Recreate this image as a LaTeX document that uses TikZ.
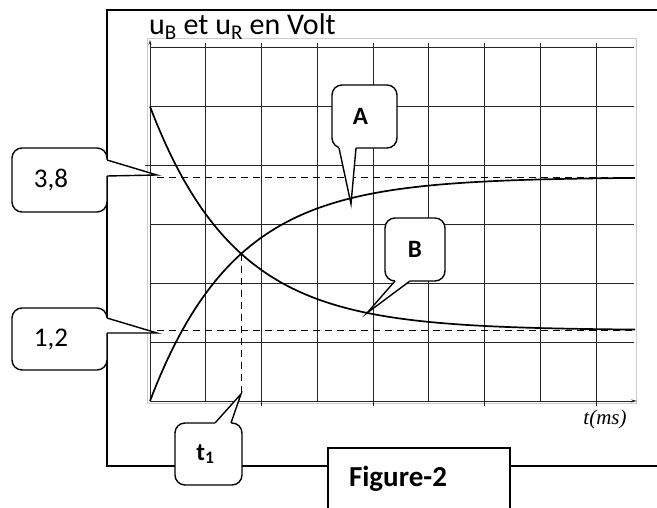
\documentclass[tikz,border=0pt]{standalone}
\usepackage{fontspec}
\setmainfont{Carlito}
\newfontfamily\serifit{Liberation Serif}
\usetikzlibrary{arrows.meta}
\begin{document}
\begin{tikzpicture}[x=1pt,y=-1pt,
  frameline/.style={line width=1.7pt},
  gridline/.style={line width=0.8pt, black!85},
  curveline/.style={line width=1.7pt, line join=round},
  dashline/.style={line width=0.8pt, dash pattern=on 7pt off 5pt},
  callbox/.style={draw, line width=1.4pt, fill=white, rounded corners=10pt, inner sep=0pt},
  ptr/.style={line width=1.4pt, line join=miter},
  numfont/.style={font=\fontsize{27}{30}\selectfont},
  letfont/.style={font=\bfseries\fontsize{25}{28}\selectfont},
]
\useasboundingbox (0,0) rectangle (657,508);
% plot area
\draw[black!20, line width=1pt] (147,39) rectangle (636,403);
% grid
\foreach \i in {1,...,8} \draw[gridline] ({150+55.75*\i},43) -- ({150+55.75*\i},401);
\foreach \i in {2,4,6,8} \draw[gridline] ({150+55.75*\i},401) -- ({150+55.75*\i},406);
\foreach \j in {1,...,6} \draw[gridline] (150,{401-58.9*\j}) -- (634,{401-58.9*\j});
\draw[gridline] (145,165.4) -- (150,165.4);
% axes
\coordinate (O) at (150,401);
\coordinate (Ytop) at (150,40);
\coordinate (Xend) at (637,401);
\draw[gridline, -{Stealth[length=5pt,width=3pt]}] (O) -- (Ytop);
\draw[gridline, -{Stealth[length=6pt,width=3pt]}] (O) -- (Xend);
% dashed asymptotes
\draw[dashline] (157,177.2) -- (634,177.2);
\draw[dashline] (157,330.3) -- (634,330.3);
\coordinate (X) at (241.2,253.7);
\coordinate (Xb) at (241.2,394);
\draw[dashline] (X) -- (Xb);
% curves
\draw[curveline] plot[domain=0:485, samples=150] ({150+\x},{401-223.82*(1-exp(-\x/85))});
\draw[curveline] plot[domain=0:485, samples=150] ({150+\x},{401-58.9*(1.2+3.8*exp(-\x/85))});
% outer frame
\draw[frameline] (657,10) -- (107,10) -- (107,466) -- (657,466);
% axis labels
\node[anchor=base west, font=\fontsize{30}{32}\selectfont, inner sep=0pt] (ylab) at (149,35) {u\textsubscript{B} et u\textsubscript{R} en Volt};
\node[font=\serifit\itshape\fontsize{21}{23}\selectfont, inner sep=0pt] (tlab) at (605,419) {t(ms)};
% callout 3,8
\node[callbox, numfont, minimum width=95pt, minimum height=64pt] (c38) at (59.5,180) {\hspace*{-17pt}3,8};
\coordinate (t38) at (157,175);
\fill[white] (104,160) -- (107,160) -- (t38) -- (107,176) -- (104,176) -- cycle;
\draw[ptr] (107,160) -- (t38) -- (107,176);
% callout 1,2
\node[callbox, numfont, minimum width=95pt, minimum height=62pt] (c12) at (59.5,339) {\hspace*{-17pt}1,2};
\coordinate (t12) at (157,333);
\fill[white] (104,318) -- (107,318) -- (t12) -- (107,333) -- (104,333) -- cycle;
\draw[ptr] (107,318) -- (t12) -- (107,333);
% callout A
\node[callbox, letfont, minimum width=65pt, minimum height=63pt] (cA) at (364.5,116.5) {\hspace*{-8pt}A};
\coordinate (tA) at (351,204);
\fill[white] (339,145) -- (339,148) -- (tA) -- (356,148) -- (356,145) -- cycle;
\draw[ptr] (339,148) -- (tA) -- (356,148);
% callout B
\node[callbox, letfont, minimum width=60pt, minimum height=63pt] (cB) at (415,249.5) {B};
\coordinate (tB) at (367,313);
\fill[white] (395,278) -- (395,281) -- (tB) -- (410,281) -- (410,278) -- cycle;
\draw[ptr] (395,281) -- (tB) -- (410,281);
% callout t1
\node[callbox, letfont, minimum width=67pt, minimum height=62pt] (ct1) at (208.5,454) {\hspace*{-6pt}t\textsubscript{1}};
\coordinate (tt1) at (241,394);
\fill[white] (215,426) -- (215,423) -- (tt1) -- (231,423) -- (231,426) -- cycle;
\draw[ptr] (215,423) -- (tt1) -- (231,423);
% Figure-2 box
\draw[frameline, fill=white] (328,448) rectangle (510,530);
\node[font=\bfseries\fontsize{29}{32}\selectfont, inner sep=0pt] (fig) at (398,479) {Figure-2};
\end{tikzpicture}
\end{document}
